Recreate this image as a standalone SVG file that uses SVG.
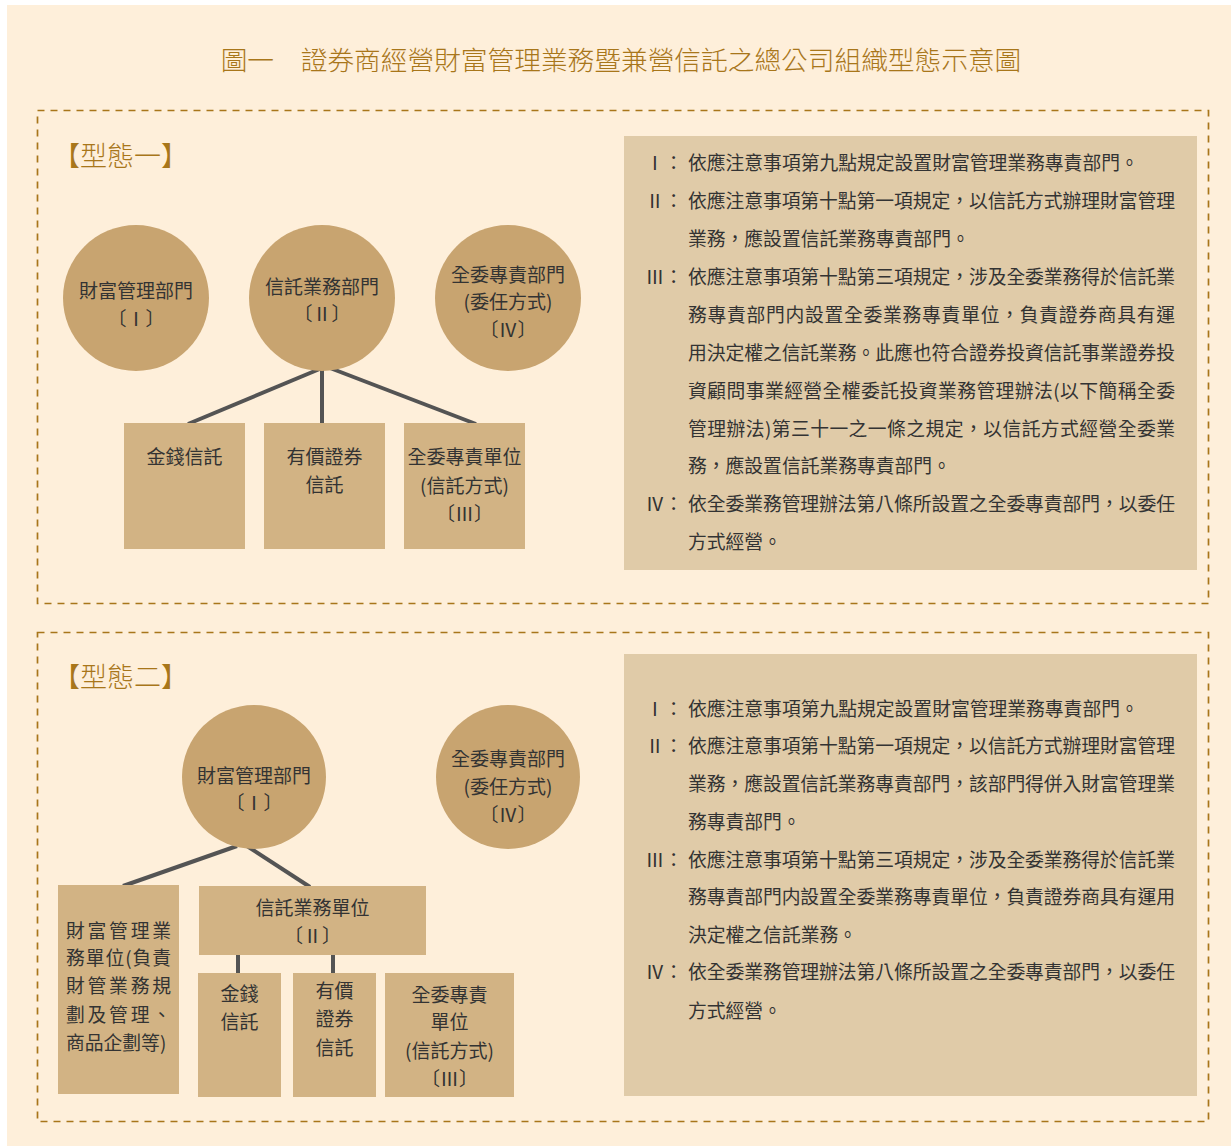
<svg xmlns="http://www.w3.org/2000/svg" width="1231" height="1146" viewBox="0 0 1231 1146">
<style>
text{font-family:"Noto Sans CJK TC","Noto Sans CJK SC",sans-serif;}
.title{font-size:26.7px;fill:#A8761A;text-anchor:middle;font-weight:300;}
.lbl{font-size:27px;fill:#A8761A;font-weight:300;}
.frame{fill:none;stroke:#A8761A;stroke-width:1.7;stroke-dasharray:7 6;}
.circ{fill:#C8A470;}
.box{fill:#D2B384;}
.panel{fill:#E0CBA8;}
.t{font-size:19px;fill:#333;text-anchor:middle;}
.p{font-size:18.8px;fill:#333;}
.n{font-size:18.8px;fill:#333;text-anchor:end;}
.con{stroke:#545454;stroke-width:4;fill:none;}
</style>
<rect x="7" y="5" width="1224" height="1141" fill="#FEEFDA"/>
<text class="title" x="621" y="70">圖一　證券商經營財富管理業務暨兼營信託之總公司組織型態示意圖</text>

<rect class="frame" x="37.5" y="110.5" width="1171" height="493"/>
<rect class="frame" x="37.5" y="632.5" width="1171" height="489"/>

<text class="lbl" x="53" y="166">【型態一】</text>
<text class="lbl" x="53" y="687">【型態二】</text>

<g id="connectors">
<line class="con" x1="322" y1="368" x2="188" y2="424"/>
<line class="con" x1="322" y1="368" x2="322" y2="424"/>
<line class="con" x1="330" y1="368" x2="476" y2="424"/>
<line class="con" x1="237" y1="846" x2="123" y2="886"/>
<line class="con" x1="247" y1="846" x2="310" y2="887"/>
<line class="con" x1="238" y1="954" x2="238" y2="974"/>
<line class="con" x1="333" y1="954" x2="333" y2="974"/>
</g>

<g id="t1-wealth">
<circle class="circ" cx="136" cy="298" r="73"/>
<text class="t" x="136" y="298">財富管理部門</text>
<text class="t" x="136" y="326">〔Ⅰ〕</text>
</g>
<g id="t1-trust">
<circle class="circ" cx="322" cy="298" r="73"/>
<text class="t" x="322" y="294">信託業務部門</text>
<text class="t" x="322" y="321">〔Ⅱ〕</text>
</g>
<g id="t1-discretionary">
<circle class="circ" cx="508" cy="298" r="73"/>
<text class="t" x="508" y="282">全委專責部門</text>
<text class="t" x="508" y="309">(委任方式)</text>
<text class="t" x="508" y="337">〔Ⅳ〕</text>
</g>
<g id="t1-money">
<rect class="box" x="124" y="423" width="121" height="126"/>
<text class="t" x="184.5" y="464">金錢信託</text>
</g>
<g id="t1-securities">
<rect class="box" x="264" y="423" width="121" height="126"/>
<text class="t" x="324.5" y="464">有價證券</text>
<text class="t" x="324.5" y="492">信託</text>
</g>
<g id="t1-unit">
<rect class="box" x="404" y="423" width="121" height="126"/>
<text class="t" x="464.5" y="464">全委專責單位</text>
<text class="t" x="464.5" y="493">(信託方式)</text>
<text class="t" x="464.5" y="521">〔Ⅲ〕</text>
</g>

<g id="t1-notes">
<rect class="panel" x="624" y="136" width="573" height="434"/>
<text class="n" x="683" y="170">Ⅰ：</text>
<text class="p" x="688" y="170">依應注意事項第九點規定設置財富管理業務專責部門。</text>
<text class="n" x="683" y="208">Ⅱ：</text>
<text class="p" x="688" y="208" textLength="487" lengthAdjust="spacing">依應注意事項第十點第一項規定，以信託方式辦理財富管理</text>
<text class="p" x="688" y="246">業務，應設置信託業務專責部門。</text>
<text class="n" x="683" y="284">Ⅲ：</text>
<text class="p" x="688" y="284" textLength="487" lengthAdjust="spacing">依應注意事項第十點第三項規定，涉及全委業務得於信託業</text>
<text class="p" x="688" y="322" textLength="487" lengthAdjust="spacing">務專責部門内設置全委業務專責單位，負責證券商具有運</text>
<text class="p" x="688" y="360" textLength="487" lengthAdjust="spacing">用決定權之信託業務。此應也符合證券投資信託事業證券投</text>
<text class="p" x="688" y="398" textLength="487" lengthAdjust="spacing">資顧問事業經營全權委託投資業務管理辦法(以下簡稱全委</text>
<text class="p" x="688" y="436" textLength="487" lengthAdjust="spacing">管理辦法)第三十一之一條之規定，以信託方式經營全委業</text>
<text class="p" x="688" y="473">務，應設置信託業務專責部門。</text>
<text class="n" x="683" y="511">Ⅳ：</text>
<text class="p" x="688" y="511" textLength="487" lengthAdjust="spacing">依全委業務管理辦法第八條所設置之全委專責部門，以委任</text>
<text class="p" x="688" y="549">方式經營。</text>
</g>

<g id="t2-wealth">
<circle class="circ" cx="254" cy="777" r="72"/>
<text class="t" x="254" y="783">財富管理部門</text>
<text class="t" x="254" y="810">〔Ⅰ〕</text>
</g>
<g id="t2-discretionary">
<circle class="circ" cx="508" cy="777" r="72"/>
<text class="t" x="508" y="766">全委專責部門</text>
<text class="t" x="508" y="794">(委任方式)</text>
<text class="t" x="508" y="822">〔Ⅳ〕</text>
</g>
<g id="t2-wealth-unit">
<rect class="box" x="58" y="885" width="121" height="209"/>
<text class="p" x="66" y="938" textLength="105" lengthAdjust="spacing">財富管理業</text>
<text class="p" x="66" y="965" textLength="105" lengthAdjust="spacing">務單位(負責</text>
<text class="p" x="66" y="993" textLength="105" lengthAdjust="spacing">財管業務規</text>
<text class="p" x="66" y="1022" textLength="105" lengthAdjust="spacing">劃及管理、</text>
<text class="p" x="66" y="1050">商品企劃等)</text>
</g>
<g id="t2-trust-unit">
<rect class="box" x="199" y="886" width="227" height="69"/>
<text class="t" x="312.5" y="915">信託業務單位</text>
<text class="t" x="312.5" y="943">〔Ⅱ〕</text>
</g>
<g id="t2-money">
<rect class="box" x="198" y="973" width="83" height="124"/>
<text class="t" x="239.5" y="1001">金錢</text>
<text class="t" x="239.5" y="1029">信託</text>
</g>
<g id="t2-securities">
<rect class="box" x="293" y="973" width="83" height="124"/>
<text class="t" x="334.5" y="998">有價</text>
<text class="t" x="334.5" y="1026">證券</text>
<text class="t" x="334.5" y="1055">信託</text>
</g>
<g id="t2-unit">
<rect class="box" x="385" y="973" width="129" height="124"/>
<text class="t" x="449.5" y="1002">全委專責</text>
<text class="t" x="449.5" y="1029">單位</text>
<text class="t" x="449.5" y="1058">(信託方式)</text>
<text class="t" x="449.5" y="1086">〔Ⅲ〕</text>
</g>

<g id="t2-notes">
<rect class="panel" x="624" y="654" width="573" height="442"/>
<text class="n" x="683" y="716">Ⅰ：</text>
<text class="p" x="688" y="716">依應注意事項第九點規定設置財富管理業務專責部門。</text>
<text class="n" x="683" y="753">Ⅱ：</text>
<text class="p" x="688" y="753" textLength="487" lengthAdjust="spacing">依應注意事項第十點第一項規定，以信託方式辦理財富管理</text>
<text class="p" x="688" y="791" textLength="487" lengthAdjust="spacing">業務，應設置信託業務專責部門，該部門得併入財富管理業</text>
<text class="p" x="688" y="829">務專責部門。</text>
<text class="n" x="683" y="867">Ⅲ：</text>
<text class="p" x="688" y="867" textLength="487" lengthAdjust="spacing">依應注意事項第十點第三項規定，涉及全委業務得於信託業</text>
<text class="p" x="688" y="904" textLength="487" lengthAdjust="spacing">務專責部門内設置全委業務專責單位，負責證券商具有運用</text>
<text class="p" x="688" y="942">決定權之信託業務。</text>
<text class="n" x="683" y="979">Ⅳ：</text>
<text class="p" x="688" y="979" textLength="487" lengthAdjust="spacing">依全委業務管理辦法第八條所設置之全委專責部門，以委任</text>
<text class="p" x="688" y="1018">方式經營。</text>
</g>
</svg>
